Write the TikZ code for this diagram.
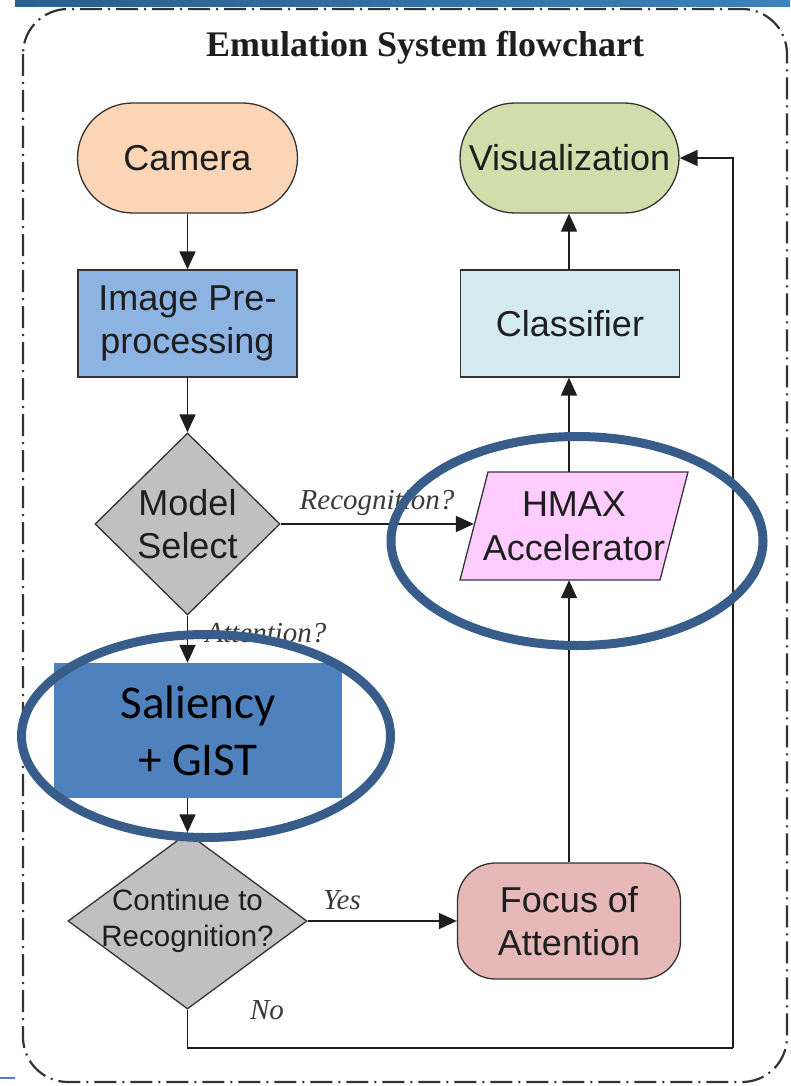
\documentclass[tikz,border=0pt]{standalone}
\usepackage{fontspec}
\setmainfont{Liberation Sans}
\newfontfamily\serifface{Liberation Serif}
\newfontfamily\calface{Carlito}
\usetikzlibrary{shapes.geometric,arrows.meta}

\definecolor{linecol}{HTML}{333333}
\definecolor{textcol}{HTML}{1E1E1E}
\definecolor{labelgray}{HTML}{3A3A3A}
\definecolor{camfill}{HTML}{FBD5B5}
\definecolor{prefill}{HTML}{8DB3E2}
\definecolor{diafill}{HTML}{C0C0C0}
\definecolor{hmaxfill}{HTML}{FFCCFF}
\definecolor{clsfill}{HTML}{D4EAF1}
\definecolor{visfill}{HTML}{D1DEAB}
\definecolor{foafill}{HTML}{E6B9B8}
\definecolor{salfill}{HTML}{4F81BD}
\definecolor{ringcol}{HTML}{385D8A}
\definecolor{bandL}{HTML}{2A5E8C}
\definecolor{bandR}{HTML}{3D82B8}

\begin{document}
\begin{tikzpicture}[x=1pt,y=-1pt,
  box/.style={draw=linecol, line width=1.3pt, inner sep=0pt, align=center,
    text=textcol, font=\fontsize{36}{43}\selectfont},
  stadium/.style={box, minimum width=220pt, minimum height=110pt, rounded corners=55pt},
  procbox/.style={box, minimum width=219pt, minimum height=107pt},
  decision/.style={box, shape=diamond},
  flow/.style={draw=textcol, line width=1.8pt, -{Triangle[length=18pt,width=16pt]}},
  plainline/.style={draw=textcol, line width=1.8pt},
  lbl/.style={text=labelgray, inner sep=0pt, font=\serifface\itshape\fontsize{29}{34}\selectfont},
  ring/.style={draw=ringcol, line width=9pt, shape=ellipse, inner sep=0pt},
]
\useasboundingbox (0,0) rectangle (790,1086);

% decorative band along the top and a short rule at the bottom left
\shade[left color=bandL, right color=bandR] (15,0) rectangle (790,7);
\draw[salfill, line width=2pt] (0,1078) -- (15,1078);

% dash-dot frame
\draw[linecol, line width=2.2pt, rounded corners=45pt,
  dash pattern=on 22pt off 6pt on 2pt off 6pt] (23,9) rectangle (787,1082);

% title
\node[font=\serifface\bfseries\fontsize{36}{42}\selectfont, text=textcol] (title) at (425,48)
  {Emulation System flowchart};

% flowchart nodes
\node[stadium, fill=camfill] (cam) at (187.5,158) {Camera};
\node[procbox, fill=prefill] (pre) at (187.5,323.5) {Image Pre-\\processing};
\node[decision, fill=diafill, minimum width=185pt, minimum height=182pt,
  label={[align=center, text=textcol, font=\fontsize{36}{43}\selectfont]center:Model\\Select}] (ms) at (187.5,524) {};

% parallelogram outline of the accelerator block, text node on top
\coordinate (hTL) at (488,472);
\coordinate (hTR) at (688,472);
\coordinate (hBR) at (660,580);
\coordinate (hBL) at (460,580);
\filldraw[fill=hmaxfill, draw=linecol, line width=1.3pt] (hTL) -- (hTR) -- (hBR) -- (hBL) -- cycle;
\node[inner sep=0pt, minimum width=200pt, minimum height=108pt, align=center, text=textcol,
  font=\fontsize{36}{44}\selectfont] (hmax) at (574,526) {HMAX\\Accelerator};

\node[procbox, fill=clsfill] (cls) at (570,323.5) {Classifier};
\node[stadium, fill=visfill, minimum width=219pt] (vis) at (569.5,158) {Visualization};
\node[fill=salfill, inner sep=0pt, minimum width=288pt, minimum height=135pt, align=center,
  text=black, font=\calface\fontsize{47}{57}\selectfont] (sal) at (198,730.5) {Saliency\\+ GIST};
\node[decision, fill=diafill, minimum width=239pt, minimum height=176pt,
  label={[align=center, text=textcol, font=\fontsize{29.5}{36}\selectfont]center:Continue to\\Recognition?}] (cont) at (187.5,921) {};
\node[box, fill=foafill, minimum width=223pt, minimum height=116pt, rounded corners=38pt] (foa) at (569,921) {Focus of\\Attention};

% connectors
\coordinate (loop) at (733,1048);
\draw[flow] (cam) -- (pre);
\draw[flow] (pre) -- (ms);
\draw[flow] (ms.east) -- (ms.east -| hmax.west);
\draw[flow] (ms.south) -- (ms.south |- sal.north);
\draw[flow] (ms.south |- sal.south) -- (cont.north);
\draw[flow] (cont.east) -- (foa.west);
\draw[flow] (foa.north) -- (foa.north |- hmax.south);
\draw[flow] (foa.north |- hmax.north) -- (foa.north |- cls.south);
\draw[flow] (foa.north |- cls.north) -- (foa.north |- vis.south);
\draw[plainline] (cont.south) |- (loop);
\draw[flow] (loop) |- (vis.east);

% branch labels
\node[lbl] (lrec) at (377,503) {Recognition?};
\node[lbl] (latt) at (266,633) {Attention?};
\node[lbl] (lyes) at (342,900) {Yes};
\node[lbl] (lno) at (267,1010) {No};

% highlight rings
\node[ring, minimum width=369pt, minimum height=203pt] (ringA) at (206,736) {};
\node[ring, minimum width=372pt, minimum height=209pt] (ringB) at (577,541) {};
\end{tikzpicture}
\end{document}
